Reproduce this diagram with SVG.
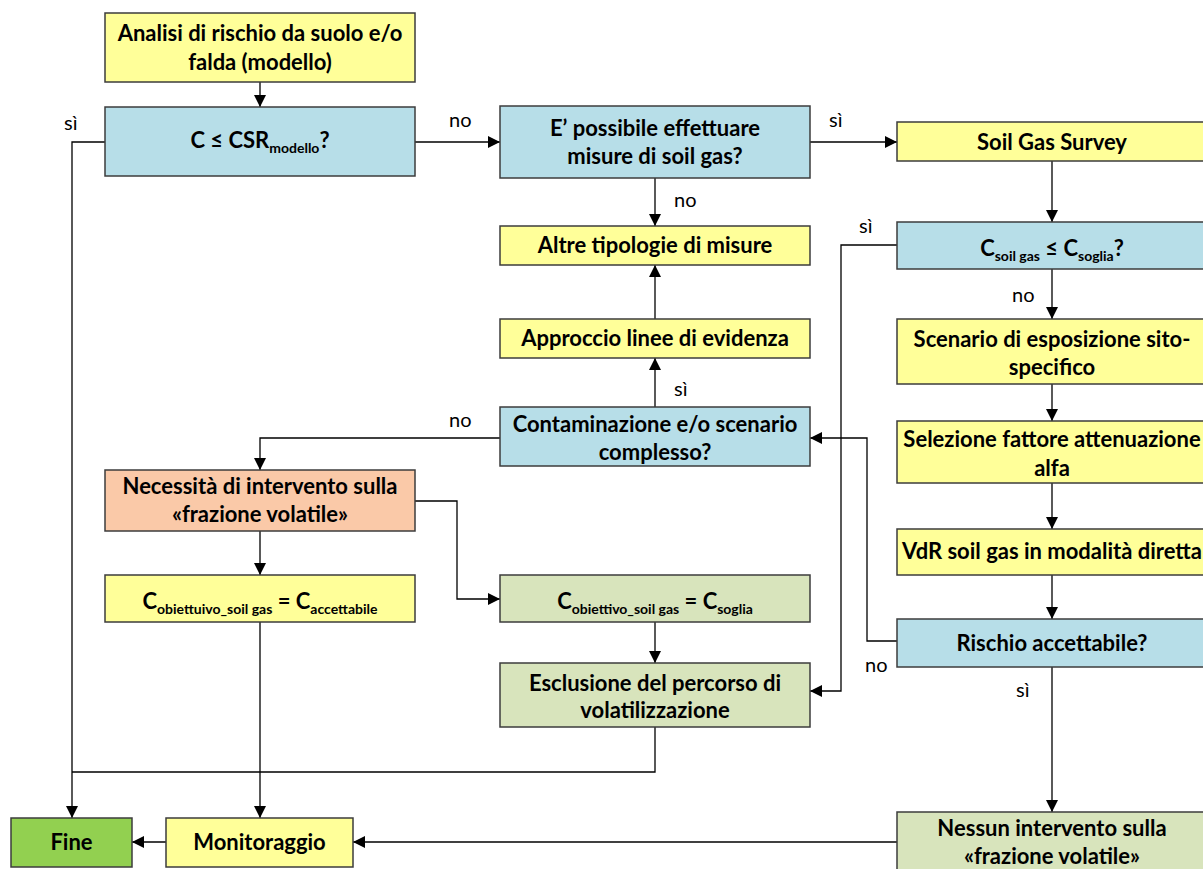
<svg xmlns="http://www.w3.org/2000/svg" width="1203" height="869" viewBox="0 0 1203 869">
<defs>
<marker id="ah" markerUnits="userSpaceOnUse" markerWidth="12" markerHeight="12" viewBox="0 0 12 12" refX="12" refY="6" orient="auto"><path d="M0,0 L12,6 L0,12 Z" fill="#000"/></marker>
<style>
.box{stroke:#3c3c3c;stroke-width:1.5}
.y{fill:#FFFF99}.b{fill:#B7DEE8}.o{fill:#FAC9A8}.g{fill:#D8E4BC}.f{fill:#92D050}
.t{font-family:Lato,"Liberation Sans",sans-serif;font-weight:bold;font-size:22px;fill:#000;text-anchor:middle}
.s{font-size:14px}
.l{font-family:Lato,"Liberation Sans",sans-serif;font-size:20px;fill:#000}
.c{fill:none;stroke:#000;stroke-width:1.3}
.a{marker-end:url(#ah)}
</style>
</defs>
<rect width="1203" height="869" fill="#fff"/>
<g id="connectors">
<path class="c a" d="M260,82 V107"/>
<path class="c" d="M105,142 H72 V772"/>
<path class="c a" d="M72,772 V818"/>
<path class="c a" d="M415,142 H500"/>
<path class="c a" d="M810,142 H897"/>
<path class="c a" d="M655,178 V226"/>
<path class="c a" d="M1052,161 V222"/>
<path class="c a" d="M897,245 H841 V691 H810"/>
<path class="c a" d="M1052,269 V319"/>
<path class="c a" d="M1052,384 V421"/>
<path class="c a" d="M1052,483 V529"/>
<path class="c a" d="M1052,575 V619"/>
<path class="c a" d="M897,641 H867 V438 H810"/>
<path class="c a" d="M1052,667 V812"/>
<path class="c a" d="M897,842 H353"/>
<path class="c a" d="M166,842 H132"/>
<path class="c a" d="M655,407 V358"/>
<path class="c a" d="M655,319 V265"/>
<path class="c a" d="M500,438 H260 V470"/>
<path class="c a" d="M415,501 H457 V599 H500"/>
<path class="c a" d="M260,531 V575"/>
<path class="c a" d="M260,622 V818"/>
<path class="c a" d="M655,622 V663"/>
<path class="c" d="M655,727 V772 H72"/>
<text class="l" x="64" y="130">sì</text>
<text class="l" x="449" y="127">no</text>
<text class="l" x="829" y="127">sì</text>
<text class="l" x="674" y="207">no</text>
<text class="l" x="859" y="233">sì</text>
<text class="l" x="1012" y="302">no</text>
<text class="l" x="674" y="396">sì</text>
<text class="l" x="449" y="427">no</text>
<text class="l" x="865" y="672">no</text>
<text class="l" x="1016" y="697">sì</text>
</g>
<g id="n1"><rect class="box y" x="105" y="13" width="310" height="69"/><text class="t" x="260" y="41">Analisi di rischio da suolo e/o</text><text class="t" x="260" y="70">falda (modello)</text></g>
<g id="n2"><rect class="box b" x="105" y="107" width="310" height="69"/><text class="t" x="260" y="148">C ≤ CSR<tspan class="s" dy="5">modello</tspan><tspan dy="-5">?</tspan></text></g>
<g id="n3"><rect class="box b" x="500" y="106" width="310" height="72"/><text class="t" x="655" y="136">E’ possibile effettuare</text><text class="t" x="655" y="164">misure di soil gas?</text></g>
<g id="n4"><rect class="box y" x="500" y="226" width="310" height="39"/><text class="t" x="655" y="253">Altre tipologie di misure</text></g>
<g id="n5"><rect class="box y" x="897" y="122" width="310" height="39"/><text class="t" x="1052" y="150">Soil Gas Survey</text></g>
<g id="n6"><rect class="box b" x="897" y="222" width="310" height="47"/><text class="t" x="1052" y="256">C<tspan class="s" dy="5">soil gas</tspan><tspan dy="-5"> ≤ C</tspan><tspan class="s" dy="5">soglia</tspan><tspan dy="-5">?</tspan></text></g>
<g id="n7"><rect class="box y" x="897" y="319" width="310" height="65"/><text class="t" x="1052" y="347">Scenario di esposizione sito-</text><text class="t" x="1052" y="375">specifico</text></g>
<g id="n8"><rect class="box y" x="897" y="421" width="310" height="62"/><text class="t" x="1052" y="447">Selezione fattore attenuazione</text><text class="t" x="1052" y="476">alfa</text></g>
<g id="n9"><rect class="box y" x="897" y="529" width="310" height="46"/><text class="t" x="1052" y="559">VdR soil gas in modalità diretta</text></g>
<g id="n10"><rect class="box b" x="897" y="619" width="310" height="48"/><text class="t" x="1052" y="651">Rischio accettabile?</text></g>
<g id="n11"><rect class="box g" x="897" y="812" width="310" height="62"/><text class="t" x="1052" y="836">Nessun intervento sulla</text><text class="t" x="1052" y="864">«frazione volatile»</text></g>
<g id="n12"><rect class="box y" x="500" y="319" width="310" height="39"/><text class="t" x="655" y="346">Approccio linee di evidenza</text></g>
<g id="n13"><rect class="box b" x="500" y="407" width="310" height="59"/><text class="t" x="655" y="432">Contaminazione e/o scenario</text><text class="t" x="655" y="460">complesso?</text></g>
<g id="n14"><rect class="box o" x="105" y="470" width="310" height="61"/><text class="t" x="260" y="494">Necessità di intervento sulla</text><text class="t" x="260" y="522">«frazione volatile»</text></g>
<g id="n15"><rect class="box y" x="105" y="575" width="310" height="47"/><text class="t" x="260" y="609">C<tspan class="s" dy="5">obiettuivo_soil gas</tspan><tspan dy="-5"> = C</tspan><tspan class="s" dy="5">accettabile</tspan></text></g>
<g id="n16"><rect class="box g" x="500" y="575" width="310" height="47"/><text class="t" x="655" y="609">C<tspan class="s" dy="5">obiettivo_soil gas</tspan><tspan dy="-5"> = C</tspan><tspan class="s" dy="5">soglia</tspan></text></g>
<g id="n17"><rect class="box g" x="500" y="663" width="310" height="64"/><text class="t" x="655" y="691">Esclusione del percorso di</text><text class="t" x="655" y="718">volatilizzazione</text></g>
<g id="n18"><rect class="box f" x="11" y="818" width="121" height="49"/><text class="t" x="71.5" y="850">Fine</text></g>
<g id="n19"><rect class="box y" x="166" y="818" width="187" height="49"/><text class="t" x="259.5" y="850">Monitoraggio</text></g>
</svg>
